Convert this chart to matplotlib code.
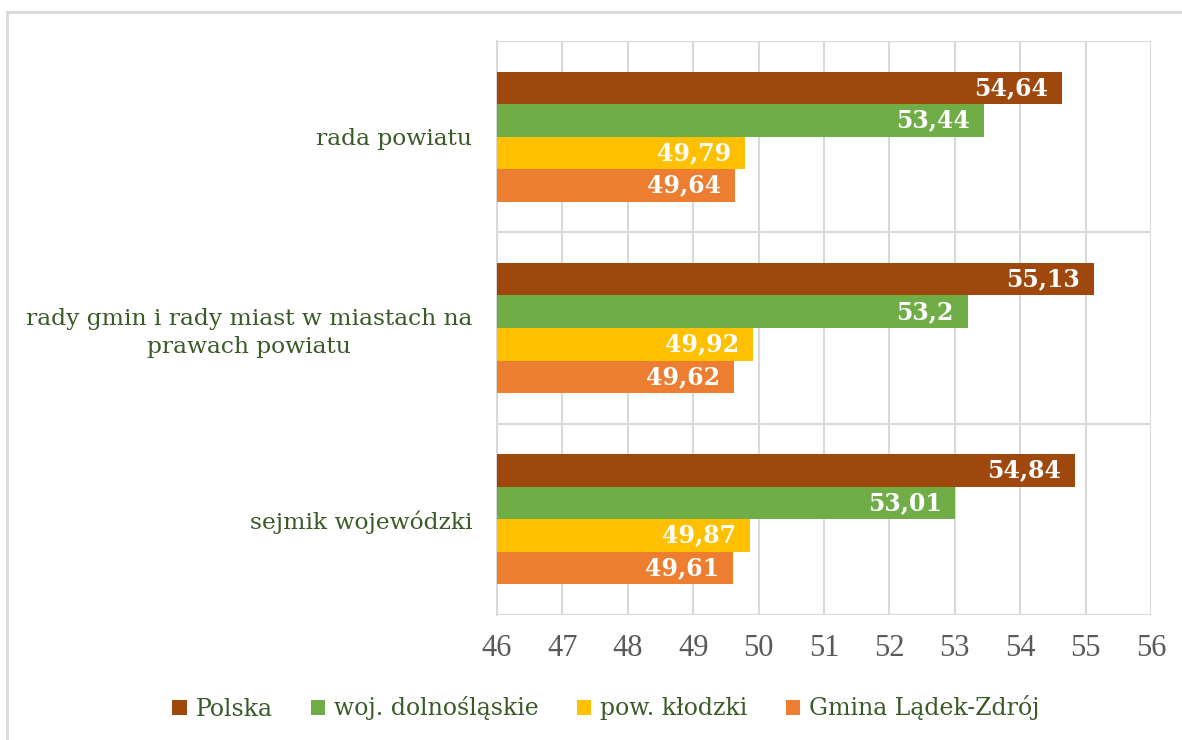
import matplotlib.pyplot as plt
from matplotlib.lines import Line2D
from matplotlib.patches import Patch

# dane
kategorie = ["rada powiatu",
             "rady gmin i rady miast w miastach na\nprawach powiatu",
             "sejmik wojewódzki"]
serie = ["Polska", "woj. dolnośląskie", "pow. kłodzki", "Gmina Lądek-Zdrój"]
polska = [54.64, 55.13, 54.84]
dolnoslaskie = [53.44, 53.2, 53.01]
klodzki = [49.79, 49.92, 49.87]
ladek = [49.64, 49.62, 49.61]
x_ticks = list(range(46, 57))

kolory = ["#9E480E", "#70AD47", "#FFC000", "#ED7D31"]
zielony = "#3A5A27"
siatka = "#D9D9D9"

fig = plt.figure(figsize=(11.82, 7.40), dpi=100)
ax = fig.add_axes([497 / 1182, 1 - 615 / 740, (1151 - 497) / 1182, (615 - 41) / 740])

# ramka wykresu (lewa i gorna krawedz)
fig.add_artist(Line2D([7 / 1182, 7 / 1182], [0, 1 - 12 / 740], color=siatka, lw=2))
fig.add_artist(Line2D([7 / 1182, 1], [1 - 12 / 740, 1 - 12 / 740], color=siatka, lw=2))

pozycje = [2, 1, 0]
h = 0.17
wartosci = [polska, dolnoslaskie, klodzki, ladek]
for i, (nazwa, vals) in enumerate(zip(serie, wartosci)):
    ys = [p + (1.5 - i) * h for p in pozycje]
    bars = ax.barh(ys, vals, height=h, left=0, color=kolory[i], zorder=3)
    for b, v in zip(bars, vals):
        ax.annotate(str(v).replace(".", ","), xy=(v, b.get_y() + h / 2),
                    xytext=(-10, 0), textcoords="offset points",
                    ha="right", va="center", color="white", fontsize=17,
                    fontweight="bold", family="DejaVu Serif", zorder=4)

ax.set_xlim(46, 56)
ax.set_ylim(-0.5, 2.5)
ax.set_xticks(x_ticks)
ax.set_xticklabels([str(t) for t in x_ticks], fontsize=22, color="#595959",
                   family="Liberation Serif")
ax.set_yticks(pozycje)
ax.set_yticklabels(kategorie, fontsize=16.8, color=zielony, family="DejaVu Serif",
                   multialignment="center", linespacing=1.35)
ax.tick_params(axis="x", length=0, pad=14)
ax.tick_params(axis="y", length=0, pad=18)
ax.grid(axis="x", color=siatka, lw=1.5, zorder=0)
for yb in [-0.5, 0.5, 1.5, 2.5]:
    ax.axhline(yb, color=siatka, lw=1.5, zorder=1)
for s in ["top", "right", "bottom"]:
    ax.spines[s].set_visible(False)
ax.spines["left"].set_color(siatka)
ax.spines["left"].set_linewidth(1.5)

uchwyty = [Patch(facecolor=k, label=n) for k, n in zip(kolory, serie)]
leg = fig.legend(handles=uchwyty, loc="center", bbox_to_anchor=(606 / 1182, 1 - 708 / 740),
                 ncol=4, frameon=False, handlelength=0.6, handleheight=0.6,
                 handletextpad=0.4, columnspacing=1.6,
                 prop={"family": "DejaVu Serif", "size": 17})
for t in leg.get_texts():
    t.set_color(zielony)

fig.savefig("out.png", dpi=100)
